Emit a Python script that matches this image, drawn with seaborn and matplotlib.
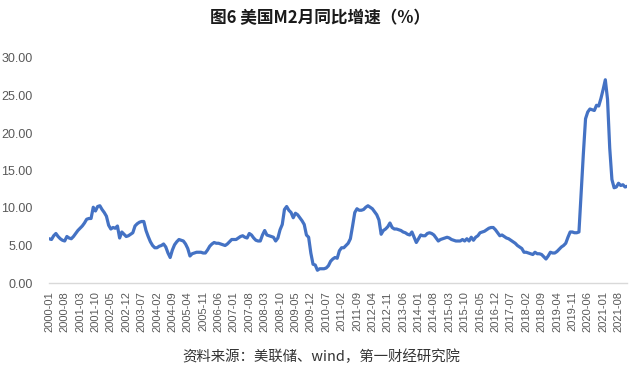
import matplotlib
matplotlib.use("Agg")
import matplotlib.pyplot as plt
import seaborn as sns
import pandas as pd

# Monthly US M2 YoY growth (%), 2000-01 .. 2021-12
start_month = "2000-01"
m2_2000 = [5.9, 5.8, 6.3, 6.6, 6.2, 5.9, 5.7, 5.6, 6.2, 6.0, 5.9, 6.2]
m2_2001 = [6.6, 7.0, 7.3, 7.6, 8.0, 8.5, 8.6, 8.6, 10.1, 9.6, 10.2, 10.3]
m2_2002 = [9.8, 9.4, 8.9, 7.7, 7.2, 7.4, 7.3, 7.6, 6.0, 6.8, 6.5, 6.2]
m2_2003 = [6.3, 6.5, 6.7, 7.6, 7.9, 8.1, 8.2, 8.2, 7.0, 6.2, 5.5, 5.0]
m2_2004 = [4.7, 4.7, 4.9, 5.0, 5.2, 4.8, 4.0, 3.4, 4.4, 5.1, 5.5, 5.8]
m2_2005 = [5.7, 5.6, 5.2, 4.6, 3.6, 3.9, 4.0, 4.1, 4.1, 4.1, 4.0, 4.0]
m2_2006 = [4.4, 4.9, 5.2, 5.4, 5.3, 5.3, 5.2, 5.1, 5.0, 5.2, 5.5, 5.8]
m2_2007 = [5.8, 5.8, 6.0, 6.2, 6.3, 6.1, 6.0, 6.6, 6.4, 6.0, 5.7, 5.6]
m2_2008 = [5.6, 6.4, 7.0, 6.4, 6.3, 6.2, 6.1, 5.6, 6.0, 7.1, 7.8, 9.8]
m2_2009 = [10.2, 9.7, 9.4, 8.7, 9.3, 9.1, 8.7, 8.3, 7.8, 6.4, 6.1, 4.0]
m2_2010 = [2.5, 2.4, 1.7, 1.9, 1.9, 1.9, 2.0, 2.3, 2.9, 3.2, 3.4, 3.3]
m2_2011 = [4.3, 4.7, 4.7, 5.0, 5.3, 5.9, 7.6, 9.4, 9.9, 9.7, 9.7, 9.8]
m2_2012 = [10.1, 10.3, 10.1, 9.9, 9.5, 9.1, 8.4, 6.5, 7.0, 7.2, 7.5, 8.0]
m2_2013 = [7.4, 7.2, 7.2, 7.1, 7.0, 6.8, 6.7, 6.5, 6.4, 6.8, 6.1, 5.4]
m2_2014 = [5.9, 6.4, 6.3, 6.3, 6.6, 6.7, 6.6, 6.4, 6.0, 5.6, 5.8, 5.9]
m2_2015 = [6.0, 6.1, 6.0, 5.8, 5.7, 5.6, 5.6, 5.6, 5.8, 5.6, 5.9, 5.6]
m2_2016 = [6.1, 5.7, 6.1, 6.3, 6.7, 6.8, 6.9, 7.1, 7.3, 7.4, 7.4, 7.1]
m2_2017 = [6.7, 6.3, 6.4, 6.2, 6.0, 5.9, 5.7, 5.5, 5.3, 5.0, 4.8, 4.6]
m2_2018 = [4.1, 4.1, 4.0, 3.9, 3.8, 4.1, 3.9, 3.9, 3.8, 3.5, 3.2, 3.6]
m2_2019 = [4.1, 4.0, 4.0, 4.2, 4.5, 4.8, 5.0, 5.3, 6.1, 6.8, 6.8, 6.7]
m2_2020 = [6.7, 6.8, 12.0, 17.2, 21.9, 22.8, 23.2, 23.1, 23.0, 23.7, 23.6, 24.6]
m2_2021 = [25.8, 27.1, 24.5, 18.0, 13.8, 12.7, 12.8, 13.3, 13.0, 13.1, 12.8, 12.9]

values = (m2_2000 + m2_2001 + m2_2002 + m2_2003 + m2_2004 + m2_2005 + m2_2006
          + m2_2007 + m2_2008 + m2_2009 + m2_2010 + m2_2011 + m2_2012 + m2_2013
          + m2_2014 + m2_2015 + m2_2016 + m2_2017 + m2_2018 + m2_2019 + m2_2020
          + m2_2021)
months = [str(p) for p in pd.period_range(start_month, periods=len(values), freq="M")]
yticks = [0, 5, 10, 15, 20, 25, 30]

title_text = "图6 美国M2月同比增速（%）"
source_text = "资料来源：美联储、wind，第一财经研究院"

df = pd.DataFrame({"idx": range(len(values)), "month": months, "value": values})

sns.set_theme(style="white")
plt.rcParams["font.family"] = ["Liberation Sans", "Noto Sans CJK SC", "DejaVu Sans"]

fig = plt.figure(figsize=(6.39, 3.77), dpi=100)
ax = fig.add_axes([49.3 / 639, 1 - 283 / 377, (627.3 - 49.3) / 639, (283 - 58) / 377])

sns.lineplot(data=df, x="idx", y="value", ax=ax, color="#4472C4", linewidth=2.3)

ax.set_xlim(0, len(values) - 1)
ax.set_ylim(0, 30)
ax.set_yticks(yticks)
ax.set_yticklabels([f"{v:.2f}" for v in yticks], fontsize=9, color="#595959")
tick_pos = list(range(0, len(values), 7))
ax.set_xticks(tick_pos)
ax.set_xticklabels([months[i] for i in tick_pos], rotation=90, fontsize=8, color="#595959")
ax.set_xlabel("")
ax.set_ylabel("")

for s in ["top", "right", "left"]:
    ax.spines[s].set_visible(False)
ax.spines["bottom"].set_color("#D9D9D9")
ax.spines["bottom"].set_linewidth(1.0)
ax.tick_params(axis="x", which="major", direction="out", length=4, width=1,
               color="#D9D9D9", pad=2)
ax.tick_params(axis="y", length=0, pad=12)
ax.grid(False)

fig.text(0.5, 1 - 18 / 377, title_text, ha="center", va="center", fontsize=12,
         fontweight="bold", family=["Noto Sans CJK SC", "DejaVu Sans"], color="#1a1a1a")
fig.text(321 / 639, 1 - 357 / 377, source_text, ha="center", va="center", fontsize=10.4,
         family=["Noto Sans CJK SC", "DejaVu Sans"], color="#333333")

fig.savefig("out.png", dpi=100)
